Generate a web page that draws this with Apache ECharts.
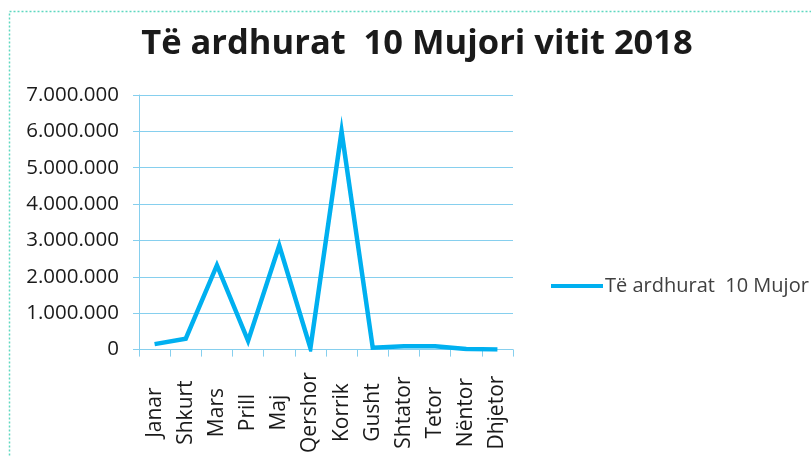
<!DOCTYPE html>
<html>
<head>
<meta charset="utf-8">
<script src="https://cdn.jsdelivr.net/npm/echarts@6/dist/echarts.min.js"></script>
<style>
html,body{margin:0;padding:0;background:#fff;}
#c{width:811px;height:456px;}
</style>
</head>
<body>
<div id="c"></div>
<script>
const titleText = 'Të ardhurat  10 Mujori vitit 2018';
const seriesName = 'Të ardhurat  10 Mujor';
const months = ['Janar','Shkurt','Mars','Prill','Maj','Qershor','Korrik','Gusht','Shtator','Tetor','Nëntor','Dhjetor'];
const revenue = [150000, 300000, 2320000, 240000, 2860000, 40000, 6000000, 50000, 90000, 90000, 15000, 0];
const yTicks = [0, 1000000, 2000000, 3000000, 4000000, 5000000, 6000000, 7000000];

const fmt = v => String(v).replace(/\B(?=(\d{3})+(?!\d))/g, '.');
const chart = echarts.init(document.getElementById('c'), null, {renderer:'canvas'});
const gridColor = '#86CFEE';
chart.setOption({
  animation:false,
  backgroundColor:'#ffffff',
  title:{
    text:titleText, left:412, top:22, textAlign:'center',
    textStyle:{fontFamily:'Open Sans', fontWeight:'bold', fontSize:34.5, color:'#1a1a1a'}
  },
  legend:{
    left:546, top:271, itemWidth:52, itemHeight:4, itemGap:0,
    icon:'rect',
    textStyle:{fontFamily:'Open Sans', fontSize:20, color:'#404040', padding:[0,0,0,-3]},
    data:[{name:seriesName, icon:'rect'}]
  },
  grid:{left:139, right:298, top:95, bottom:105, containLabel:false},
  xAxis:{
    type:'category', data:months, boundaryGap:true,
    axisLine:{lineStyle:{color:gridColor, width:1}},
    axisTick:{show:true, length:7, lineStyle:{color:gridColor}},
    axisLabel:{rotate:90, align:'center', margin:63, interval:0,
      fontFamily:'Open Sans', fontSize:21, color:'#1a1a1a'}
  },
  yAxis:{
    type:'value', min:yTicks[0], max:yTicks[yTicks.length-1], interval:1000000,
    axisLine:{show:true, lineStyle:{color:gridColor, width:1}},
    axisTick:{show:true, length:6, lineStyle:{color:gridColor}},
    splitLine:{show:true, lineStyle:{color:gridColor, width:1}},
    axisLabel:{formatter:fmt, margin:20, fontFamily:'Open Sans', fontSize:20.5, color:'#1a1a1a'}
  },
  series:[{
    name:seriesName, type:'line', data:revenue,
    symbol:'none', smooth:false,
    lineStyle:{color:'#00B0F0', width:4.5, join:'miter'},
    itemStyle:{color:'#00B0F0'}
  }],
  graphic:[{
    type:'rect', silent:true, z:-1,
    shape:{x:9.5, y:11.5, width:820, height:460},
    style:{fill:null, stroke:'#5ED8C0', lineWidth:1.5, lineDash:[2,2]}
  }]
});
</script>
</body>
</html>
